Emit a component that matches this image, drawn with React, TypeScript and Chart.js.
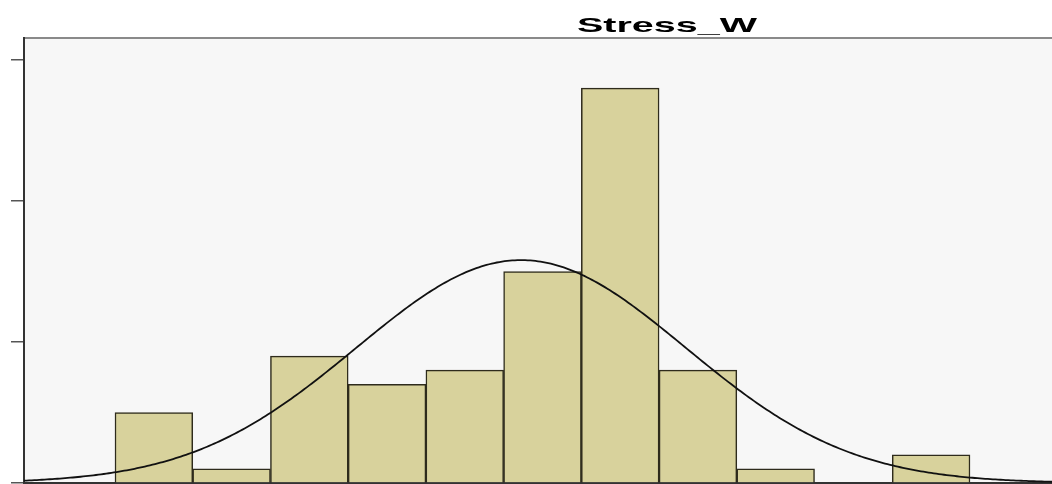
import React, { useEffect, useRef } from "react";
import { Chart, registerables } from "chart.js";

Chart.register(...registerables);

// ---- data ----
const chartTitle = "Stress_W";
const binCenters = [1.125, 1.375, 1.625, 1.875, 2.125, 2.375, 2.625, 2.875, 3.125, 3.375, 3.625];
const binCounts = [5, 1, 9, 7, 8, 15, 28, 8, 1, 0, 2];
const binWidth = 0.25;
const yTickValues = [0, 10, 20, 30];
const normalMean = 2.306;
const normalSD = 0.53;
const xMin = 0.7073;
const xMax = 4.0138;
const yMax = 31.56;

const sampleN = binCounts.reduce((a, b) => a + b, 0);

function normalCurvePoints(steps: number) {
  const pts: { x: number; y: number }[] = [];
  const k = (sampleN * binWidth) / (normalSD * Math.sqrt(2 * Math.PI));
  for (let i = 0; i <= steps; i++) {
    const x = xMin + ((xMax - xMin) * i) / steps;
    const z = (x - normalMean) / normalSD;
    pts.push({ x, y: k * Math.exp(-0.5 * z * z) });
  }
  return pts;
}

const plotBackground = {
  id: "plotBackground",
  beforeDraw(chart: any) {
    const { ctx, chartArea } = chart;
    ctx.save();
    ctx.fillStyle = "#f7f7f7";
    ctx.fillRect(chartArea.left, chartArea.top, chart.width - chartArea.left, chartArea.bottom - chartArea.top);
    ctx.restore();
  },
};

const stretchedTitle = {
  id: "stretchedTitle",
  afterDraw(chart: any) {
    const { ctx } = chart;
    ctx.save();
    ctx.font = 'bold 21px "Liberation Sans", Arial, sans-serif';
    ctx.fillStyle = "#000";
    ctx.textBaseline = "alphabetic";
    ctx.textAlign = "center";
    const w = ctx.measureText(chartTitle).width;
    const sx = 180 / w;
    ctx.translate(667, 32);
    ctx.scale(sx, 1);
    ctx.fillText(chartTitle, 0, 0);
    ctx.restore();
  },
};

export default function App() {
  const canvasRef = useRef<HTMLCanvasElement | null>(null);

  useEffect(() => {
    if (!canvasRef.current) return;
    const chart = new Chart(canvasRef.current, {
      type: "bar",
      data: {
        datasets: [
          {
            type: "line",
            label: "Normal",
            data: normalCurvePoints(400),
            borderColor: "#111",
            borderWidth: 1.8,
            pointRadius: 0,
            tension: 0,
            order: 0,
            xAxisID: "x",
            yAxisID: "y",
          } as any,
          {
            type: "bar",
            label: chartTitle,
            data: binCenters.map((x, i) => ({ x, y: binCounts[i] })),
            backgroundColor: "#d8d29c",
            borderColor: "#2e2b1c",
            borderWidth: 1.5,
            barPercentage: 1,
            categoryPercentage: 1,
            order: 1,
            xAxisID: "x",
            yAxisID: "y",
          } as any,
        ],
      },
      options: {
        responsive: false,
        animation: false,
        layout: { padding: { left: 11, top: 38, right: 0, bottom: 1 } },
        plugins: {
          legend: { display: false },
          title: { display: false },
          tooltip: { enabled: false },
        },
        scales: {
          x: {
            type: "linear",
            position: "bottom",
            offset: false,
            min: xMin,
            max: xMax,
            ticks: { display: false },
            grid: { display: false, drawOnChartArea: false, drawTicks: false, offset: false },
            border: { display: true, color: "#333", width: 2 },
          },
          xTop: {
            type: "linear",
            position: "top",
            offset: false,
            min: xMin,
            max: xMax,
            ticks: { display: false },
            grid: { display: false, drawOnChartArea: false, drawTicks: false, offset: false },
            border: { display: true, color: "#8a8a8a", width: 2 },
          },
          y: {
            type: "linear",
            min: 0,
            max: yMax,
            afterBuildTicks: (scale: any) => {
              scale.ticks = yTickValues.map((v) => ({ value: v }));
            },
            ticks: { display: false },
            grid: {
              display: true,
              drawOnChartArea: false,
              drawTicks: true,
              tickLength: 13,
              color: "#555",
              lineWidth: 1.5,
            },
            border: { display: true, color: "#333", width: 2 },
          },
        },
      } as any,
      plugins: [plotBackground, stretchedTitle],
    });
    return () => chart.destroy();
  }, []);

  return (
    <div style={{ position: "absolute", left: 0, top: 0, width: 1052, height: 484, background: "#fff" }}>
      <canvas ref={canvasRef} width={1052} height={484} style={{ display: "block" }} />
    </div>
  );
}
